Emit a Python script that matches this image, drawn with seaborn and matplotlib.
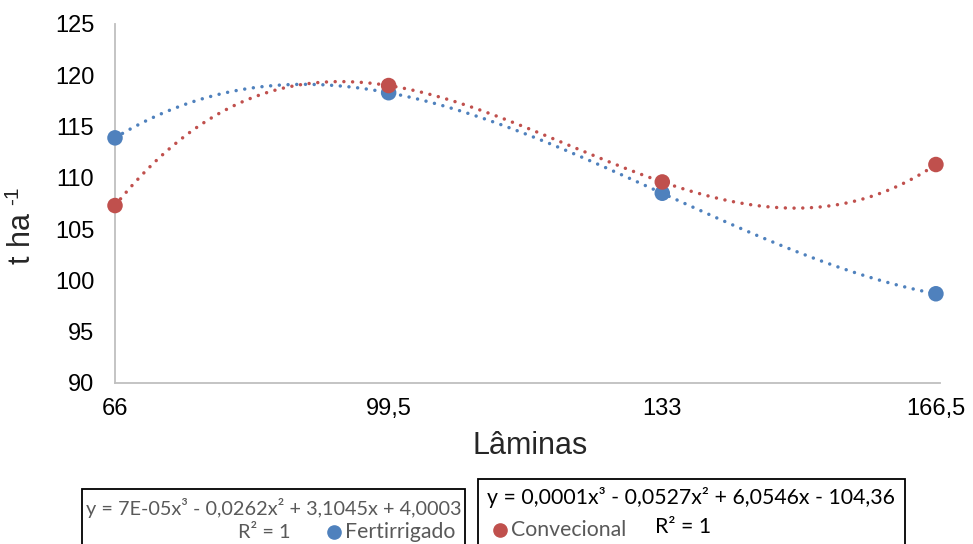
import numpy as np
import pandas as pd
import matplotlib
matplotlib.use("Agg")
import matplotlib.pyplot as plt
from matplotlib.patches import Rectangle
from matplotlib.lines import Line2D
import seaborn as sns

# Irrigation depths (Lâminas) and yields (t ha-1) per management system
laminas = [66, 99.5, 133, 166.5]
tick_labels = ["66", "99,5", "133", "166,5"]
fertirrigado = [113.9, 118.3, 108.5, 98.7]
convecional = [107.3, 119.0, 109.6, 111.3]

eq_fert = "y = 7E-05x³ - 0,0262x² + 3,1045x + 4,0003"
eq_conv = "y = 0,0001x³ - 0,0527x² + 6,0546x - 104,36"

BLUE = "#4F81BD"
RED = "#C0504D"

sns.set_theme(style="white")
plt.rcParams["font.family"] = ["Liberation Sans", "DejaVu Sans"]

W, H = 973, 544
fig = plt.figure(figsize=(W / 100, H / 100), dpi=100)


def fx(x):
    return x / W


def fy(y):
    return 1 - y / H


ax = fig.add_axes([fx(115), fy(383), (940 - 115) / W, (383 - 24) / H])

df = pd.DataFrame({
    "Lâminas": laminas * 2,
    "t": fertirrigado + convecional,
    "Sistema": ["Fertirrigado"] * 4 + ["Convecional"] * 4,
})

# Third-degree polynomial trend lines (R² = 1 with four points)
xs = np.linspace(min(laminas), max(laminas), 300)
trend_rows = []
for name, vals in (("Fertirrigado", fertirrigado), ("Convecional", convecional)):
    coef = np.polyfit(laminas, vals, 3)
    trend_rows.append(pd.DataFrame({"Lâminas": xs, "t": np.polyval(coef, xs), "Sistema": name}))
trend = pd.concat(trend_rows)

palette = {"Fertirrigado": BLUE, "Convecional": RED}
sns.lineplot(data=trend, x="Lâminas", y="t", hue="Sistema", palette=palette,
             ax=ax, legend=False, linewidth=2.5, sort=False)
for ln in ax.get_lines():
    ln.set_dashes((0.01, 2.5))
    ln.set_dash_capstyle("round")

sns.scatterplot(data=df, x="Lâminas", y="t", hue="Sistema", palette=palette,
                ax=ax, legend=False, s=125, edgecolor="none", zorder=3,
                clip_on=False)

ax.set_xlim(66, 167)
ax.set_ylim(90, 125)
ax.set_xticks(laminas)
ax.set_xticklabels(tick_labels)
ax.set_yticks(np.arange(90, 126, 5))
ax.tick_params(axis="both", length=0, labelsize=17, colors="#000000")
ax.tick_params(axis="y", pad=15)
ax.tick_params(axis="x", pad=11)
for side in ("top", "right"):
    ax.spines[side].set_visible(False)
for side in ("left", "bottom"):
    ax.spines[side].set_color("#BFBFBF")
    ax.spines[side].set_linewidth(1.3)
ax.set_facecolor("white")

ax.set_xlabel("Lâminas", fontsize=22, va="center")
ax.xaxis.set_label_coords((530 - 115) / 825, (383 - 446) / 359)
ax.set_ylabel("t ha", fontsize=22, va="center")
ax.yaxis.set_label_coords((22 - 115) / 825, (383 - 238) / 359)
# superscript "-1" of the unit, set beside the rotated label
fig.text(fx(13), fy(196), "-1", fontsize=15, rotation=90,
         ha="center", va="center")

# Trend line equation boxes below the chart
box_font = ["Lato", "DejaVu Sans"]
GRAY = "#595959"

fig.add_artist(Rectangle((fx(82), fy(560)), (465 - 82) / W, (560 - 489) / H,
                         transform=fig.transFigure, fill=False,
                         edgecolor="#000000", linewidth=1.3))
fig.text(fx(461), fy(508), eq_fert, ha="right", va="center", fontsize=14.3,
         color=GRAY, family=box_font)
fig.text(fx(345), fy(532), "Fertirrigado", ha="left", va="center", fontsize=15.3,
         color=GRAY, family=box_font)
fig.add_artist(Line2D([fx(334)], [fy(532)], marker="o", markersize=9.5,
                      color=BLUE, transform=fig.transFigure))
fig.text(fx(290), fy(532), "R² = 1", ha="right", va="center", fontsize=14.3,
         color=GRAY, family=box_font)

fig.add_artist(Rectangle((fx(478), fy(560)), (905 - 478) / W, (560 - 479) / H,
                         transform=fig.transFigure, fill=False,
                         edgecolor="#000000", linewidth=1.3))
fig.text(fx(487), fy(498), eq_conv, ha="left", va="center", fontsize=15.3,
         color="#000000", family=box_font)
fig.add_artist(Line2D([fx(500)], [fy(530)], marker="o", markersize=9.5,
                      color=RED, transform=fig.transFigure))
fig.text(fx(511), fy(530), "Convecional", ha="left", va="center", fontsize=15.3,
         color=GRAY, family=box_font)
fig.text(fx(655), fy(527), "R² = 1", ha="left", va="center", fontsize=15.3,
         color="#000000", family=box_font)

fig.savefig("out.png", dpi=100, facecolor="white")
